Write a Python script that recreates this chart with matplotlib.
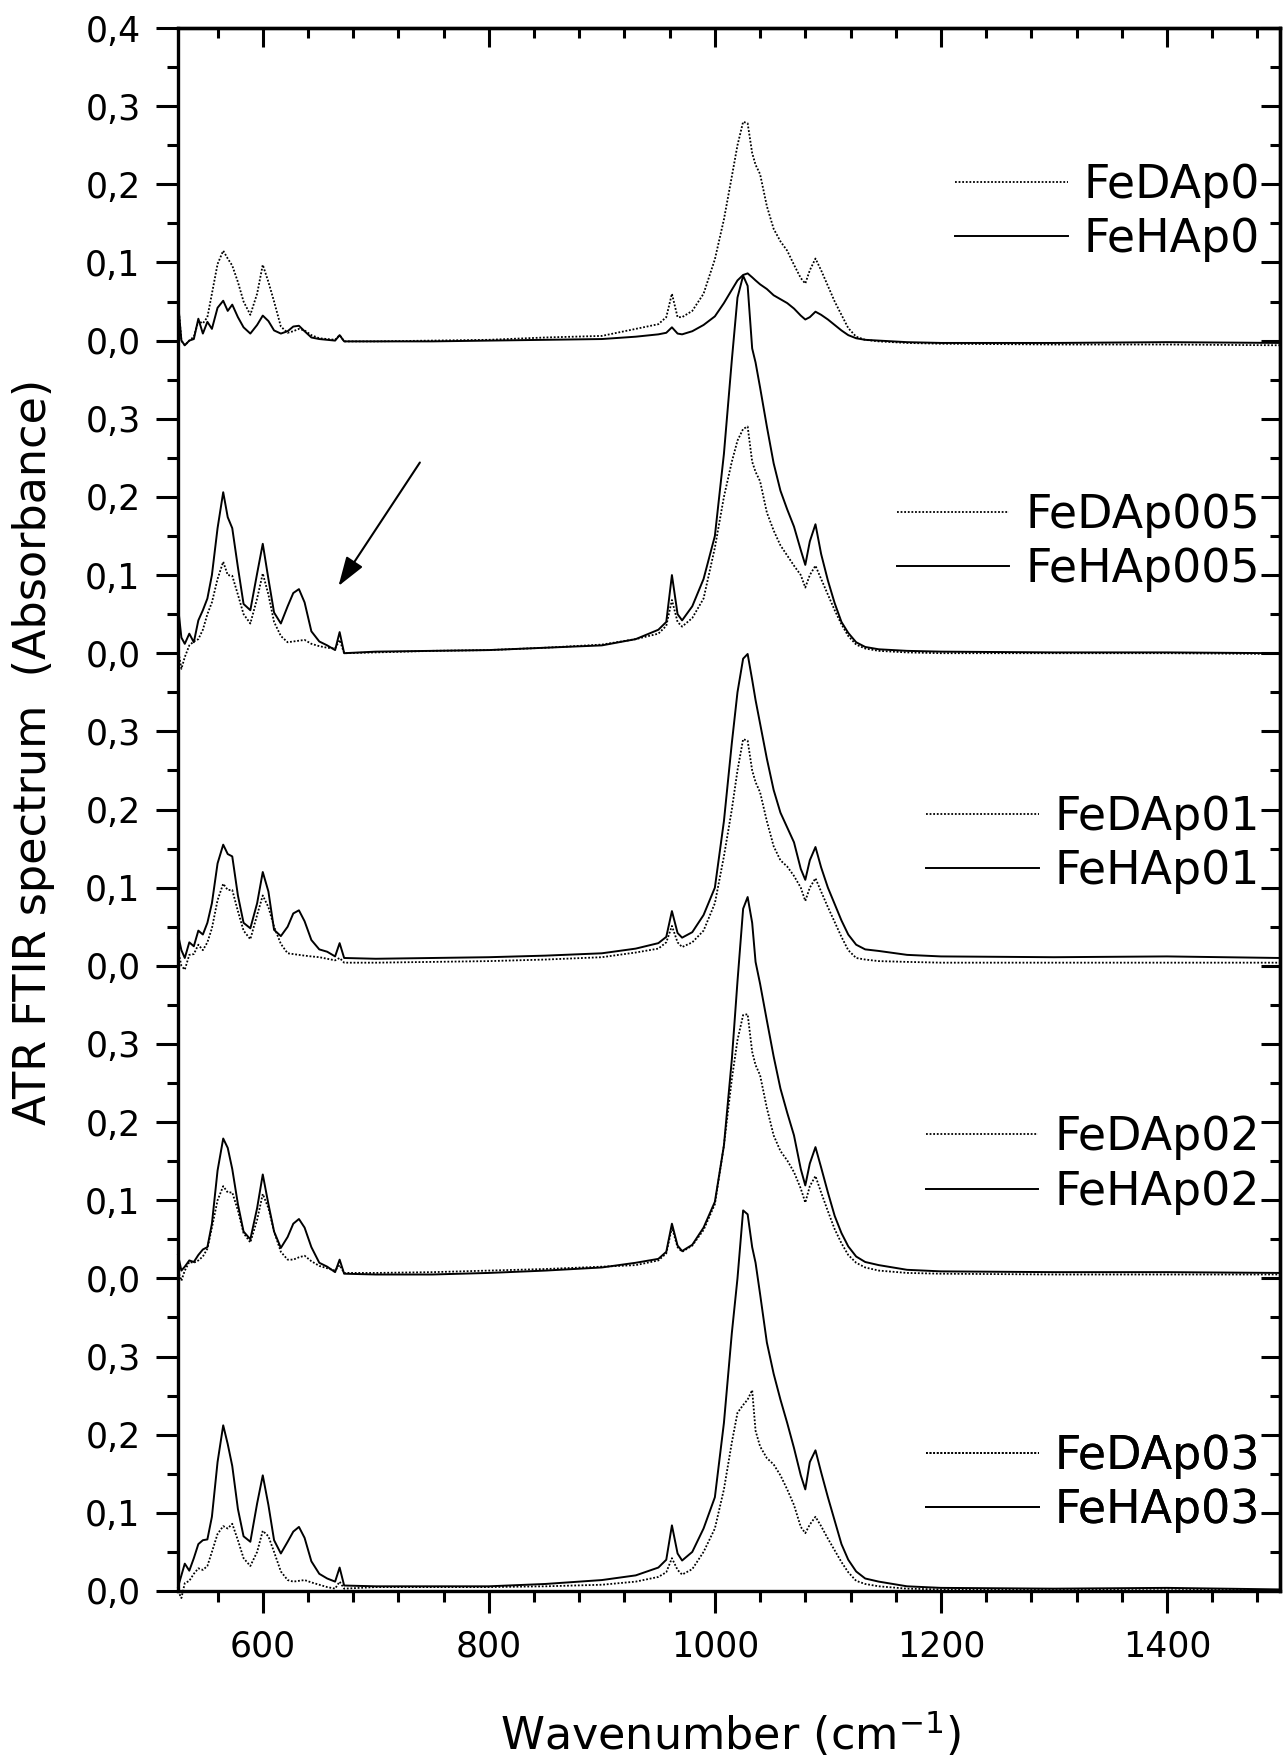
import matplotlib
matplotlib.use('Agg')
import matplotlib.pyplot as plt
import matplotlib.transforms as mtransforms
from matplotlib.ticker import MultipleLocator, FuncFormatter, NullFormatter
import numpy as np

# shared wavenumber grid (cm-1)
wavenumber = [525, 528, 531, 535, 539, 543, 547, 551, 555, 560,
              565, 569, 573, 578, 583, 589, 595, 600, 605, 610,
              616, 622, 627, 632, 637, 643, 650, 657, 664, 668,
              672,
              700, 750, 800, 850, 900,
              930, 950, 957, 962, 967, 971, 980, 990, 1000, 1008,
              1015, 1020, 1025, 1029, 1033, 1036, 1040, 1046, 1052, 1058,
              1064, 1070, 1076, 1080, 1084, 1089, 1094, 1100, 1106, 1112,
              1118, 1125, 1133,
              1145, 1170, 1200, 1300, 1400, 1500]

fedap0 = [0.05, 0.0, -0.006, 0.0, 0.005, 0.025, 0.022, 0.03, 0.06, 0.098,
          0.115, 0.105, 0.096, 0.075, 0.05, 0.033, 0.06, 0.097, 0.075, 0.05,
          0.018, 0.01, 0.012, 0.015, 0.013, 0.007, 0.003, 0.002, 0.001, 0.007,
          -0.001,
          -0.001, 0.0, 0.001, 0.004, 0.006,
          0.015, 0.021, 0.03, 0.06, 0.03, 0.03, 0.038, 0.06, 0.104, 0.155,
          0.21, 0.25, 0.28, 0.278, 0.24, 0.225, 0.213, 0.172, 0.143, 0.127,
          0.115, 0.097, 0.08, 0.073, 0.09, 0.105, 0.09, 0.07, 0.05, 0.033,
          0.016, 0.005, 0.001,
          -0.001, -0.003, -0.004, -0.005, -0.005, -0.006]
fehap0 = [0.05, 0.0, -0.006, 0.0, 0.002, 0.028, 0.009, 0.024, 0.015, 0.042,
          0.051, 0.038, 0.046, 0.03, 0.017, 0.009, 0.02, 0.032, 0.025, 0.013,
          0.009, 0.012, 0.018, 0.019, 0.012, 0.004, 0.002, 0.001, 0.0, 0.007,
          -0.001,
          -0.001, -0.001, 0.0, 0.001, 0.002,
          0.005, 0.008, 0.01, 0.017, 0.009, 0.008, 0.012, 0.02, 0.031, 0.048,
          0.065, 0.077, 0.084, 0.086, 0.081, 0.077, 0.072, 0.066, 0.058, 0.053,
          0.048, 0.041, 0.032, 0.027, 0.03, 0.037, 0.033, 0.027, 0.02, 0.013,
          0.007, 0.003, 0.001,
          0.0, -0.002, -0.003, -0.003, -0.002, -0.003]

fedap005 = [0.005, -0.02, -0.005, 0.01, 0.015, 0.018, 0.03, 0.05, 0.065, 0.095,
            0.117, 0.1, 0.099, 0.075, 0.05, 0.038, 0.07, 0.102, 0.075, 0.04,
            0.022, 0.014, 0.015, 0.016, 0.017, 0.012, 0.009, 0.007, 0.006, 0.017,
            0.0,
            0.001, 0.003, 0.004, 0.007, 0.011,
            0.018, 0.025, 0.035, 0.068, 0.04, 0.034, 0.045, 0.07, 0.135, 0.2,
            0.245, 0.272, 0.287, 0.29, 0.245, 0.232, 0.22, 0.18, 0.157, 0.138,
            0.125, 0.112, 0.1, 0.084, 0.1, 0.112, 0.095, 0.075, 0.055, 0.037,
            0.022, 0.011, 0.006,
            0.003, 0.001, 0.0, 0.0, 0.0, -0.001]
fehap005 = [0.06, 0.02, 0.012, 0.025, 0.014, 0.042, 0.055, 0.07, 0.1, 0.16,
            0.206, 0.174, 0.16, 0.11, 0.063, 0.055, 0.102, 0.14, 0.095, 0.052,
            0.038, 0.06, 0.077, 0.082, 0.065, 0.028, 0.015, 0.01, 0.004, 0.027,
            0.0,
            0.002, 0.003, 0.004, 0.007, 0.01,
            0.018, 0.03, 0.04, 0.1, 0.05, 0.042, 0.06, 0.095, 0.15, 0.255,
            0.375, 0.455, 0.483, 0.47, 0.39, 0.372, 0.34, 0.29, 0.243, 0.208,
            0.184, 0.162, 0.132, 0.113, 0.143, 0.165, 0.127, 0.093, 0.064, 0.04,
            0.026, 0.014, 0.008,
            0.005, 0.003, 0.002, 0.001, 0.001, 0.0]

fedap01 = [0.02, 0.0, -0.005, 0.014, 0.015, 0.027, 0.02, 0.03, 0.048, 0.084,
           0.105, 0.097, 0.097, 0.07, 0.045, 0.034, 0.065, 0.09, 0.075, 0.05,
           0.028, 0.016, 0.015, 0.014, 0.013, 0.012, 0.011, 0.009, 0.007, 0.01,
           0.004,
           0.004, 0.005, 0.006, 0.008, 0.011,
           0.017, 0.022, 0.03, 0.051, 0.03, 0.024, 0.03, 0.045, 0.08, 0.14,
           0.2, 0.25, 0.29, 0.288, 0.25, 0.235, 0.222, 0.185, 0.153, 0.135,
           0.127, 0.115, 0.1, 0.083, 0.1, 0.112, 0.095, 0.075, 0.056, 0.037,
           0.02, 0.01, 0.008,
           0.006, 0.005, 0.004, 0.004, 0.004, 0.004]
fehap01 = [0.04, 0.02, 0.01, 0.03, 0.025, 0.045, 0.04, 0.055, 0.08, 0.131,
           0.155, 0.143, 0.14, 0.09, 0.055, 0.048, 0.08, 0.12, 0.095, 0.046,
           0.038, 0.05, 0.067, 0.071, 0.057, 0.033, 0.021, 0.018, 0.012, 0.029,
           0.01,
           0.009, 0.01, 0.011, 0.013, 0.016,
           0.022, 0.029, 0.037, 0.07, 0.042, 0.036, 0.043, 0.065, 0.1, 0.185,
           0.285, 0.35, 0.393, 0.399, 0.366, 0.34, 0.31, 0.265, 0.225, 0.196,
           0.177, 0.158, 0.124, 0.11, 0.135, 0.152, 0.126, 0.1, 0.079, 0.058,
           0.04, 0.027, 0.021,
           0.019, 0.014, 0.012, 0.011, 0.012, 0.01]

fedap02 = [0.01, -0.003, 0.01, 0.021, 0.02, 0.023, 0.028, 0.038, 0.065, 0.1,
           0.118, 0.11, 0.11, 0.087, 0.058, 0.046, 0.075, 0.108, 0.09, 0.06,
           0.034, 0.024, 0.024, 0.027, 0.029, 0.022, 0.016, 0.013, 0.01, 0.017,
           0.007,
           0.007, 0.008, 0.01, 0.012, 0.015,
           0.017, 0.023, 0.032, 0.065, 0.04, 0.034, 0.042, 0.062, 0.095, 0.17,
           0.255, 0.305, 0.337, 0.338, 0.29, 0.273, 0.26, 0.218, 0.183, 0.163,
           0.151, 0.136, 0.115, 0.097, 0.118, 0.131, 0.11, 0.086, 0.063, 0.045,
           0.03, 0.02, 0.014,
           0.01, 0.007, 0.006, 0.005, 0.005, 0.005]
fehap02 = [0.03, 0.01, 0.015, 0.023, 0.021, 0.03, 0.037, 0.04, 0.07, 0.138,
           0.179, 0.167, 0.14, 0.095, 0.06, 0.05, 0.09, 0.133, 0.095, 0.06,
           0.039, 0.053, 0.07, 0.076, 0.065, 0.04, 0.02, 0.015, 0.008, 0.024,
           0.006,
           0.005, 0.005, 0.007, 0.01, 0.014,
           0.02, 0.025, 0.034, 0.07, 0.042, 0.035, 0.043, 0.065, 0.098, 0.17,
           0.28, 0.38, 0.473, 0.488, 0.455, 0.405, 0.377, 0.33, 0.284, 0.243,
           0.212, 0.183, 0.14, 0.119, 0.147, 0.168, 0.142, 0.11, 0.08, 0.058,
           0.041, 0.028, 0.021,
           0.017, 0.011, 0.009, 0.008, 0.008, 0.007]

fedap03 = [0.0, -0.009, 0.01, 0.013, 0.022, 0.029, 0.027, 0.032, 0.05, 0.073,
           0.083, 0.08, 0.086, 0.065, 0.042, 0.032, 0.05, 0.077, 0.07, 0.05,
           0.025, 0.014, 0.012, 0.013, 0.014, 0.011, 0.008, 0.005, 0.003, 0.012,
           0.003,
           0.005, 0.005, 0.005, 0.006, 0.008,
           0.012, 0.018, 0.024, 0.042, 0.027, 0.021, 0.028, 0.05, 0.08, 0.13,
           0.19, 0.228, 0.238, 0.245, 0.257, 0.205, 0.185, 0.17, 0.162, 0.148,
           0.13, 0.11, 0.082, 0.074, 0.085, 0.095, 0.083, 0.067, 0.052, 0.037,
           0.024, 0.013, 0.009,
           0.006, 0.003, 0.002, 0.002, 0.003, 0.001]
fehap03 = [0.005, 0.02, 0.035, 0.026, 0.042, 0.06, 0.065, 0.066, 0.095, 0.165,
           0.212, 0.188, 0.16, 0.105, 0.07, 0.063, 0.112, 0.148, 0.11, 0.065,
           0.048, 0.063, 0.076, 0.082, 0.068, 0.038, 0.022, 0.016, 0.012, 0.03,
           0.007,
           0.006, 0.006, 0.006, 0.009, 0.014,
           0.02, 0.03, 0.04, 0.084, 0.048, 0.039, 0.05, 0.08, 0.12, 0.215,
           0.33, 0.4, 0.487, 0.482, 0.44, 0.42, 0.38, 0.318, 0.278, 0.245,
           0.215, 0.183, 0.148, 0.13, 0.165, 0.18, 0.152, 0.12, 0.09, 0.06,
           0.04, 0.025, 0.016,
           0.012, 0.006, 0.004, 0.003, 0.004, 0.002]

# panels from top to bottom
dotted_labels = ['FeDAp0', 'FeDAp005', 'FeDAp01', 'FeDAp02', 'FeDAp03']
solid_labels = ['FeHAp0', 'FeHAp005', 'FeHAp01', 'FeHAp02', 'FeHAp03']
dotted_series = [fedap0, fedap005, fedap01, fedap02, fedap03]
solid_series = [fehap0, fehap005, fehap01, fehap02, fehap03]
legend_y = [0.164, 0.142, 0.155, 0.145, 0.138]   # legend centre, in panel units
panel_step = 0.4

arrow_tail = (739, 1.444)
arrow_head = (667, 1.286)

fig = plt.figure(figsize=(12.86, 17.61), dpi=100)
ax = fig.add_axes([178 / 1286, 1 - 1591 / 1761, 1102 / 1286, 1563 / 1761])

n = len(dotted_series)
for i in range(n):
    off = panel_step * (n - 1 - i)
    ld, = ax.plot(wavenumber, np.array(dotted_series[i]) + off, color='k',
                  lw=1.3, ls=(0, (1, 1)), clip_on=False)
    ls_, = ax.plot(wavenumber, np.array(solid_series[i]) + off, color='k',
                   lw=1.4, ls='-', clip_on=False)
    trans = mtransforms.blended_transform_factory(ax.transAxes, ax.transData)
    leg = ax.legend([ld, ls_], [dotted_labels[i], solid_labels[i]],
                    loc='center right', bbox_to_anchor=(0.982, legend_y[i] + off),
                    bbox_transform=trans, frameon=False, fontsize=33,
                    handlelength=2.45, handletextpad=0.35, labelspacing=0.2,
                    borderpad=0, borderaxespad=0)
    ax.add_artist(leg)

ax.annotate('', xy=arrow_head, xytext=arrow_tail,
            arrowprops=dict(arrowstyle='-|>,head_length=0.6,head_width=0.2',
                            mutation_scale=30, color='k', lw=1.5,
                            shrinkA=0, shrinkB=0))

ax.set_xlim(525, 1500)
ax.set_ylim(0, panel_step * n)

ax.xaxis.set_major_locator(MultipleLocator(200))
ax.xaxis.set_minor_locator(MultipleLocator(40))
ax.yaxis.set_major_locator(MultipleLocator(0.1))
ax.yaxis.set_minor_locator(MultipleLocator(0.05))


def ylab(v, pos):
    k = int(round(v * 10))
    if k == 20:
        return '0,4'
    return '0,%d' % (k % 4)


ax.yaxis.set_major_formatter(FuncFormatter(ylab))

ax.tick_params(which='both', direction='out', width=2.2, labelsize=25)
ax.tick_params(which='major', length=16)
ax.tick_params(which='minor', length=8)
ax.tick_params(axis='x', pad=12)
ax.tick_params(axis='y', pad=11)
for s in ax.spines.values():
    s.set_linewidth(2.4)

secx = ax.secondary_xaxis('top')
secx.xaxis.set_major_locator(MultipleLocator(200))
secx.xaxis.set_minor_locator(MultipleLocator(40))
secx.xaxis.set_major_formatter(NullFormatter())
secx.tick_params(which='both', direction='in', width=2.2)
secx.tick_params(which='major', length=14)
secx.tick_params(which='minor', length=7)
secx.spines['top'].set_linewidth(2.4)

secy = ax.secondary_yaxis('right')
secy.yaxis.set_major_locator(MultipleLocator(0.1))
secy.yaxis.set_minor_locator(MultipleLocator(0.05))
secy.yaxis.set_major_formatter(NullFormatter())
secy.tick_params(which='both', direction='in', width=2.2)
secy.tick_params(which='major', length=14)
secy.tick_params(which='minor', length=7)
secy.spines['right'].set_linewidth(2.4)

ax.set_xlabel('Wavenumber (cm$^{-1}$)', fontsize=32, va='baseline')
ax.xaxis.set_label_coords(0.501, -0.1017)
ax.set_ylabel('ATR FTIR spectrum  (Absorbance)', fontsize=32, va='center')
ax.yaxis.set_label_coords(-0.1307, 0.537)

fig.savefig('out.png', dpi=100)
